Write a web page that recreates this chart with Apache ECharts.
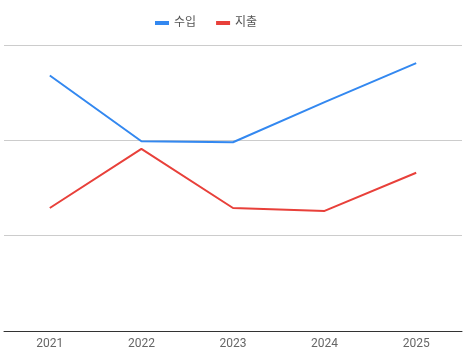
<!DOCTYPE html>
<html><head><meta charset="utf-8">
<script src="https://cdn.jsdelivr.net/npm/echarts@6/dist/echarts.min.js"></script>
<style>html,body{margin:0;padding:0;background:#fff}#c{width:472px;height:362px}</style>
</head><body><div id="c"></div>
<script>
const categories = ['2021','2022','2023','2024','2025'];
const income = [268, 199, 198, 240, 281];
const expense = [129, 191, 129, 126, 166];
const seriesNames = ['수입','지출'];
const chart = echarts.init(document.getElementById('c'));
chart.setOption({
  animation: false,
  color: ['#3388f0', '#e8403a'],
  legend: {
    top: 12, left: 150,
    icon: 'rect', itemWidth: 14, itemHeight: 4, itemGap: 20,
    textStyle: {color: '#555', fontSize: 12, fontFamily: 'Roboto, "Noto Sans CJK KR", sans-serif'},
    data: seriesNames
  },
  grid: {left: 4, right: 10, top: 45, bottom: 31, containLabel: false},
  xAxis: {
    type: 'category', data: categories, boundaryGap: true,
    axisLine: {lineStyle: {color: '#333', width: 1}},
    axisTick: {show: false},
    axisLabel: {color: '#666', fontSize: 12, margin: 7, fontFamily: 'Roboto, sans-serif'}
  },
  yAxis: {
    type: 'value', min: 0, max: 300, interval: 100,
    axisLabel: {show: false}, axisLine: {show: false}, axisTick: {show: false},
    splitLine: {lineStyle: {color: '#ccc', width: 1}}
  },
  series: [
    {name: seriesNames[0], type: 'line', data: income, showSymbol: false, lineStyle: {width: 2}},
    {name: seriesNames[1], type: 'line', data: expense, showSymbol: false, lineStyle: {width: 2}}
  ]
});
</script></body></html>
